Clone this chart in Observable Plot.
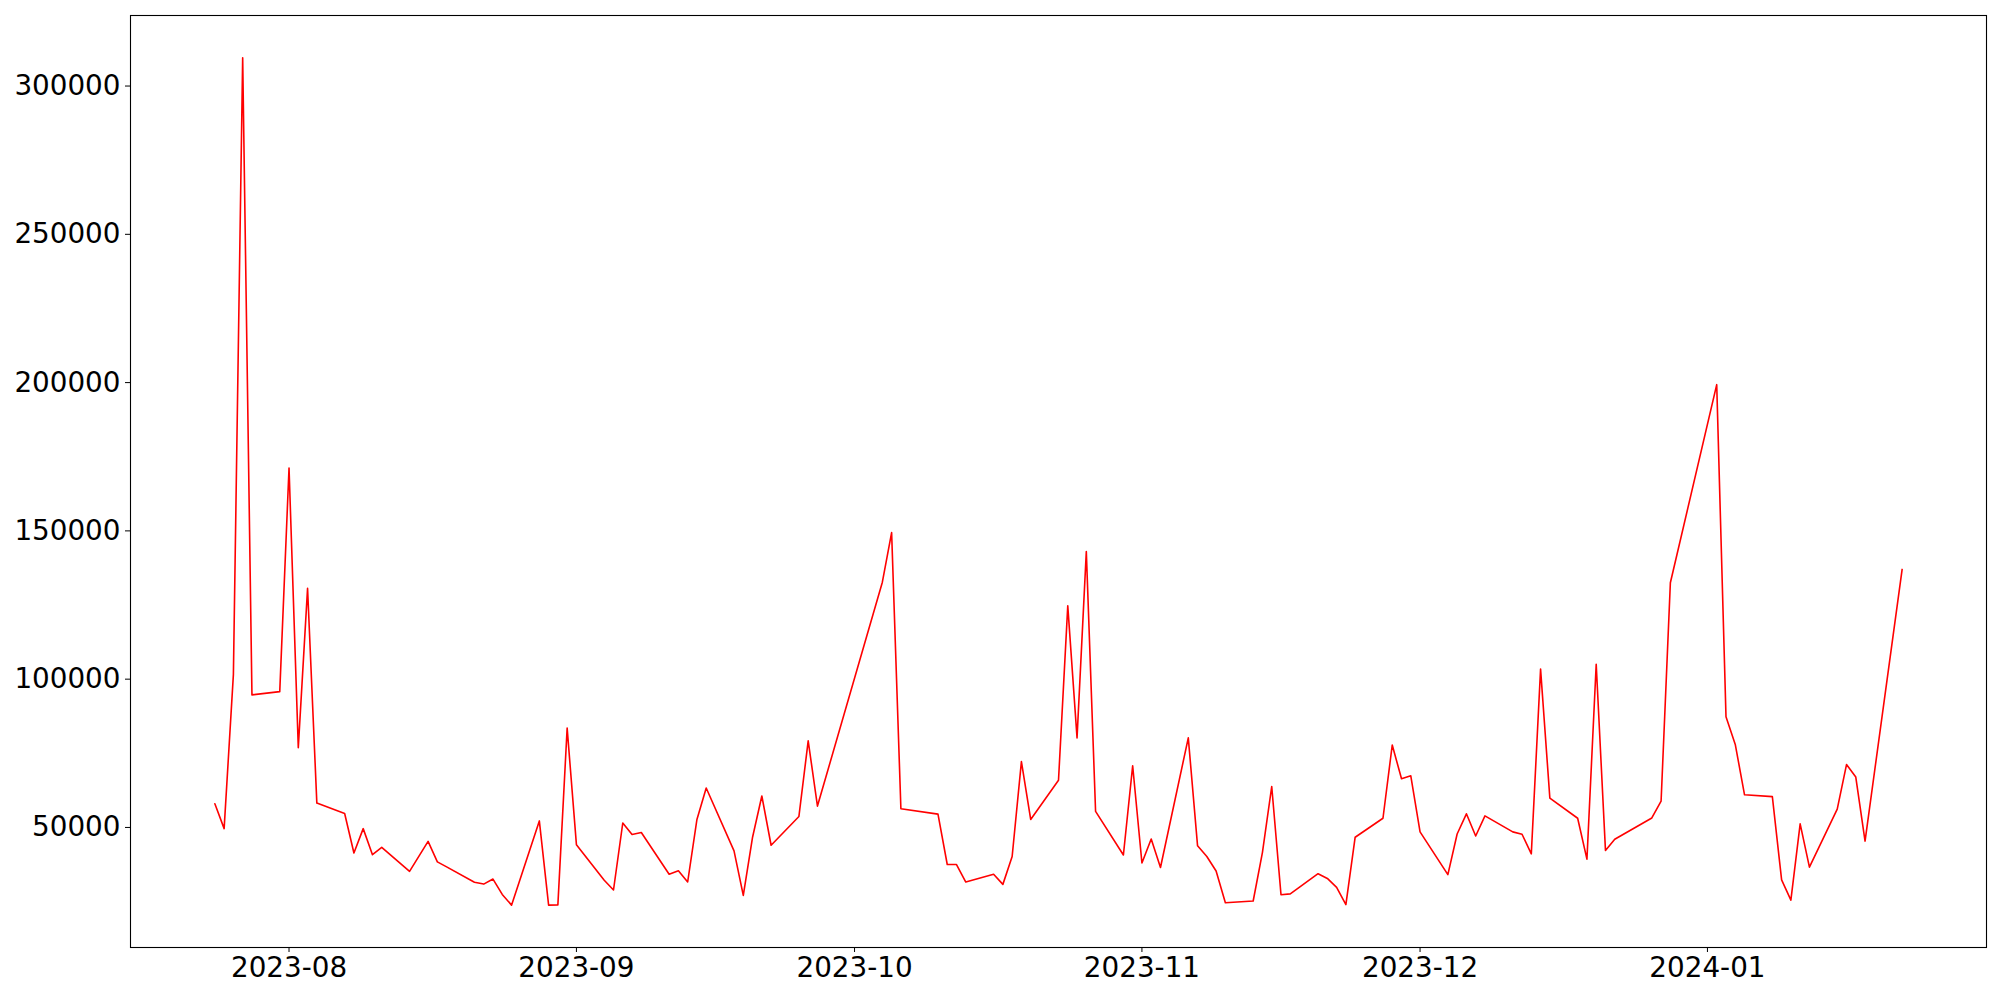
<!DOCTYPE html>
<html>
<head>
<meta charset="utf-8">
<script src="https://cdn.jsdelivr.net/npm/d3@7"></script>
<script src="https://cdn.jsdelivr.net/npm/@observablehq/plot@0.6"></script>
<style>
  html, body { margin: 0; padding: 0; background: white; }
  #chart { width: 2000px; height: 1000px; }
</style>
</head>
<body>
<div id="chart"></div>
<script>
const dates = [
  "2023-07-24","2023-07-25","2023-07-26","2023-07-27","2023-07-28","2023-07-31",
  "2023-08-01","2023-08-02","2023-08-03","2023-08-04","2023-08-07","2023-08-08",
  "2023-08-09","2023-08-10","2023-08-11","2023-08-14","2023-08-16","2023-08-17",
  "2023-08-18","2023-08-21","2023-08-22","2023-08-23","2023-08-24","2023-08-25",
  "2023-08-28","2023-08-29","2023-08-30","2023-08-31","2023-09-01","2023-09-04",
  "2023-09-05","2023-09-06","2023-09-07","2023-09-08","2023-09-11","2023-09-12",
  "2023-09-13","2023-09-14","2023-09-15","2023-09-18","2023-09-19","2023-09-20",
  "2023-09-21","2023-09-22","2023-09-25","2023-09-26","2023-09-27","2023-10-04",
  "2023-10-05","2023-10-06","2023-10-10","2023-10-11","2023-10-12","2023-10-13",
  "2023-10-16","2023-10-17","2023-10-18","2023-10-19","2023-10-20","2023-10-23",
  "2023-10-24","2023-10-25","2023-10-26","2023-10-27","2023-10-30","2023-10-31",
  "2023-11-01","2023-11-02","2023-11-03","2023-11-06","2023-11-07","2023-11-08",
  "2023-11-09","2023-11-10","2023-11-13","2023-11-14","2023-11-15","2023-11-16",
  "2023-11-17","2023-11-20","2023-11-21","2023-11-22","2023-11-23","2023-11-24",
  "2023-11-27","2023-11-28","2023-11-29","2023-11-30","2023-12-01","2023-12-04",
  "2023-12-05","2023-12-06","2023-12-07","2023-12-08","2023-12-11","2023-12-12",
  "2023-12-13","2023-12-14","2023-12-15","2023-12-18","2023-12-19","2023-12-20",
  "2023-12-21","2023-12-22","2023-12-26","2023-12-27","2023-12-28","2024-01-02",
  "2024-01-03","2024-01-04","2024-01-05","2024-01-08","2024-01-09","2024-01-10",
  "2024-01-11","2024-01-12","2024-01-15","2024-01-16","2024-01-17","2024-01-18",
  "2024-01-22"
];
const values = [
  58000, 49600, 101600, 309500, 94700, 95800,
  171200, 76900, 130600, 58200, 54700, 41400,
  49600, 40800, 43300, 35200, 45300, 38400,
  36700, 31500, 30900, 32600, 27400, 23800,
  52200, 23800, 23900, 83500, 44200, 32200,
  28900, 51500, 47600, 48300, 34200, 35400,
  31600, 52700, 63300, 42100, 27100, 46700,
  60600, 44000, 53700, 79200, 57200, 132700,
  149400, 56300, 54500, 37500, 37500, 31600,
  34200, 30800, 40200, 72200, 52700, 65900,
  124700, 80200, 143000, 55400, 40700, 70800,
  38000, 46100, 36500, 80200, 43800, 40200,
  35300, 24600, 25200, 41600, 63800, 27300,
  27600, 34400, 32800, 29800, 24000, 46700,
  53100, 77800, 66400, 67400, 48500, 34100,
  47800, 54600, 47100, 53900, 48500, 47700,
  41100, 103400, 59900, 53100, 39300, 105000,
  42200, 46000, 53200, 58900, 132500, 199300,
  87300, 78000, 61000, 60400, 32300, 25500,
  51200, 36600, 56200, 71200, 67000, 45400,
  137000
];
const xTicks = ["2023-08-01","2023-09-01","2023-10-01","2023-11-01","2023-12-01","2024-01-01"];
const yTicks = [50000, 100000, 150000, 200000, 250000, 300000];

const parse = d3.utcParse("%Y-%m-%d");
const data = dates.map((d, i) => ({date: parse(d), value: values[i]}));

// matplotlib-like 5% autoscale margins
const [x0, x1] = d3.extent(data, d => d.date);
const xm = (x1 - x0) * 0.05;
const [y0, y1] = d3.extent(data, d => d.value);
const ym = (y1 - y0) * 0.05;

const chart = Plot.plot({
  width: 2000,
  height: 1000,
  marginLeft: 130,
  marginRight: 14,
  marginTop: 15,
  marginBottom: 53,
  style: {fontFamily: "'DejaVu Sans', sans-serif", fontSize: "27.8px", background: "white", color: "black"},
  x: {type: "utc", domain: [new Date(+x0 - xm), new Date(+x1 + xm)], label: null},
  y: {domain: [y0 - ym, y1 + ym], label: null},
  marks: [
    Plot.axisX({ticks: xTicks.map(parse), tickFormat: d3.utcFormat("%Y-%m"), tickSize: 5, tickPadding: 5, label: null, fontSize: "27.8px"}),
    Plot.axisY({ticks: yTicks, tickFormat: d => String(d), tickSize: 5, tickPadding: 5, label: null, fontSize: "27.8px"}),
    Plot.lineY(data, {x: "date", y: "value", stroke: "red", strokeWidth: 1.6}),
    Plot.frame({stroke: "black", strokeWidth: 1.1})
  ]
});
document.getElementById("chart").appendChild(chart);
</script>
</body>
</html>
